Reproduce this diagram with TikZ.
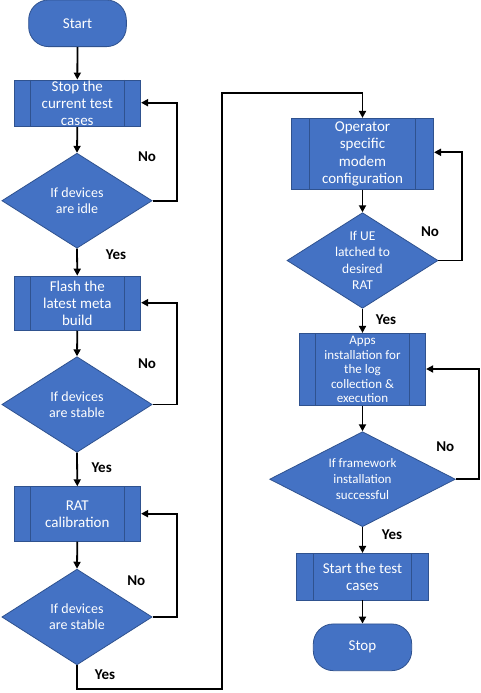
\documentclass[tikz,border=0pt]{standalone}
\usepackage{fontspec}
\setmainfont{Carlito}
\usetikzlibrary{shapes.geometric,arrows.meta}
\definecolor{boxfill}{HTML}{4472C4}
\definecolor{boxedge}{HTML}{2F528F}
\tikzset{
  shapebase/.style={draw=boxedge, fill=boxfill, line width=0.8pt, inner sep=0pt},
  terminal/.style={shapebase, rounded corners=20pt},
  proc/.style={shapebase,
    path picture={\draw[boxedge, line width=0.8pt]
      ([xshift=#1]path picture bounding box.north west) -- ([xshift=#1]path picture bounding box.south west)
      ([xshift=-#1]path picture bounding box.north east) -- ([xshift=-#1]path picture bounding box.south east);}},
  proc/.default=16.5pt,
  decision/.style={shapebase, diamond},
  boxtext/.style={text=white, align=center, inner sep=0pt, font=\fontsize{15}{17}\selectfont},
  answer/.style={inner sep=0pt, font=\bfseries\fontsize{15}{17}\selectfont},
  flow/.style={line width=1.8pt, -{Triangle[length=7pt,width=7pt]}},
  wire/.style={line width=1.8pt},
}
\begin{document}
\begin{tikzpicture}[x=1pt, y=1pt]
\useasboundingbox (0,0) rectangle (481,-693);

% ---- left column ----
\node[terminal, minimum width=97.7, minimum height=46.7] (start) at (77.5,-23.3) {};
\node[boxtext] (startt) at (start) {Start};

\node[proc, minimum width=126.7, minimum height=46.7] (p1) at (77.3,-103.3) {};
\node[boxtext] (p1t) at (p1) {Stop the\\current test\\cases};

\node[decision, minimum width=150.3, minimum height=95] (d1) at (77,-200.7) {};
\node[boxtext, font=\fontsize{14}{16}\selectfont] (d1t) at (d1) {If devices\\are idle};

\node[proc, minimum width=126.7, minimum height=54.3] (p2) at (77.3,-303.2) {};
\node[boxtext] (p2t) at (p2) {Flash the\\latest meta\\build};

\node[decision, minimum width=150.3, minimum height=95.6] (d2) at (77,-404.5) {};
\node[boxtext, font=\fontsize{14}{16}\selectfont] (d2t) at (d2) {If devices\\are stable};

\node[proc, minimum width=126.7, minimum height=54.6] (p3) at (77.3,-514) {};
\node[boxtext] (p3t) at (p3) {RAT\\calibration};

\node[decision, minimum width=150.3, minimum height=95.7] (d3) at (77,-617) {};
\node[boxtext, font=\fontsize{14}{16}\selectfont] (d3t) at (d3) {If devices\\are stable};

% ---- right column ----
\node[proc=18pt, minimum width=142.3, minimum height=71] (p4) at (362.5,-153.8) {};
\node[boxtext, font=\fontsize{15}{17.4}\selectfont] (p4t) at (p4) {Operator\\specific\\modem\\configuration};

\node[decision, minimum width=151, minimum height=95.6] (d4) at (362.5,-260.5) {};
\node[boxtext, font=\fontsize{13.5}{16.3}\selectfont] (d4t) at (d4) {If UE\\latched to\\desired\\RAT};

\node[proc=16pt, minimum width=126.4, minimum height=72.4] (p5) at (362.5,-369.5) {};
\node[boxtext, font=\fontsize{13}{14.5}\selectfont] (p5t) at (p5) {Apps\\installation for\\the log\\collection \&\\execution};

\node[decision, minimum width=185.7, minimum height=95] (d5) at (362.5,-479.2) {};
\node[boxtext, font=\fontsize{13}{16}\selectfont] (d5t) at (d5) {If framework\\installation\\successful};

\node[proc, minimum width=131.6, minimum height=46.7] (p6) at (362.5,-576.7) {};
\node[boxtext] (p6t) at (p6) {Start the test\\cases};

\node[terminal, minimum width=98.4, minimum height=46.7] (stop) at (362.5,-647.3) {};
\node[boxtext] (stopt) at (stop) {Stop};

% ---- main flow ----
\draw[flow] (start.south) -- (p1.north);
\draw[flow] (p1.south) -- (d1.north);
\draw[flow] (d1.south) -- (p2.north);
\draw[flow] (p2.south) -- (d2.north);
\draw[flow] (d2.south) -- (p3.north);
\draw[flow] (p3.south) -- (d3.north);

\coordinate (b1) at (77,-689.3);
\coordinate (b2) at (221.7,-689.3);
\coordinate (b3) at (221.7,-93.3);
\coordinate (b4) at (362.5,-93.3);
\draw[flow] (d3.south) -- (b1) -- (b2) -- (b3) -- (b4) -- (p4.north);

\draw[flow] (p4.south) -- (d4.north);
\draw[flow] (d4.south) -- (p5.north);
\draw[flow] (p5.south) -- (d5.north);
\draw[flow] (d5.south) -- (p6.north);
\draw[flow] (p6.south) -- (stop.north);

% ---- retry loops ----
\coordinate (r1) at (176.7,-102.7);
\coordinate (r2) at (176.7,-302.7);
\coordinate (r3) at (176.7,-513.7);
\coordinate (r4) at (461.7,-152.3);
\coordinate (r5) at (479.3,-369);
\draw[flow] (d1.east) -| (r1) -- (p1.east |- r1);
\draw[flow] (d2.east) -| (r2) -- (p2.east |- r2);
\draw[flow] (d3.east) -| (r3) -- (p3.east |- r3);
\draw[flow] (d4.east) -| (r4) -- (p4.east |- r4);
\draw[flow] (d5.east) -| (r5) -- (p5.east |- r5);

% ---- answers ----
\node[answer] (n1) at (147,-157) {No};
\node[answer] (n2) at (147,-363.3) {No};
\node[answer] (n3) at (136.3,-580.7) {No};
\node[answer] (n4) at (430,-231.7) {No};
\node[answer] (n5) at (445.3,-446.7) {No};
\node[answer] (y1) at (116,-255) {Yes};
\node[answer] (y2) at (101.7,-467.3) {Yes};
\node[answer] (y3) at (105,-675) {Yes};
\node[answer] (y4) at (386,-319.3) {Yes};
\node[answer] (y5) at (392,-535) {Yes};
\end{tikzpicture}
\end{document}
